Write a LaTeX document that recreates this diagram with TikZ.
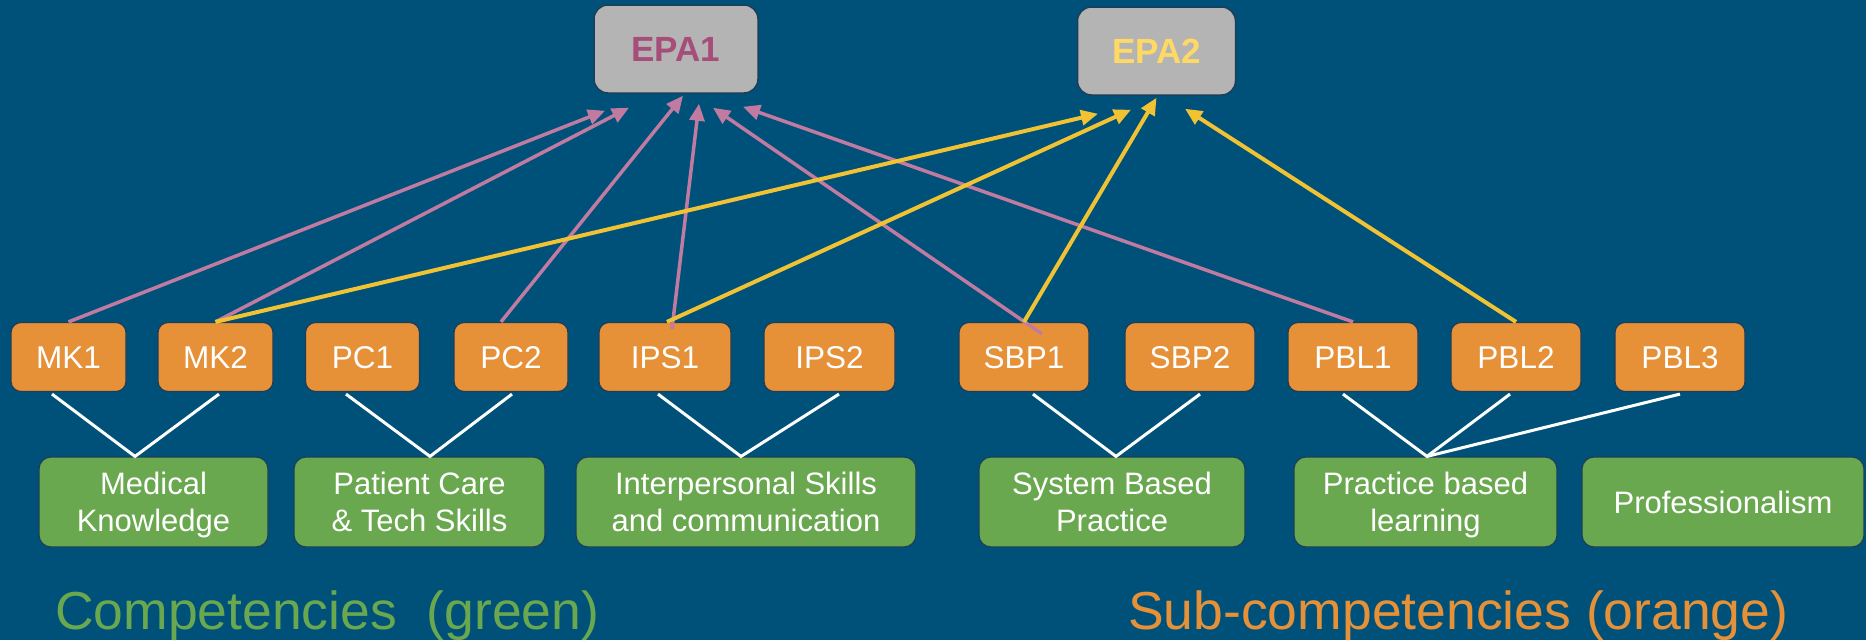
\documentclass[tikz,border=0pt]{standalone}
\usepackage{fontspec}
\setmainfont{Liberation Sans}
\usetikzlibrary{calc,arrows.meta}
\definecolor{bgblue}{RGB}{0,81,122}
\definecolor{epagray}{RGB}{180,180,180}
\definecolor{suborange}{RGB}{230,145,56}
\definecolor{compgreen}{RGB}{106,168,79}
\definecolor{pinkarrow}{RGB}{194,123,160}
\definecolor{yellowarrow}{RGB}{241,194,50}
\definecolor{epaonetext}{RGB}{166,77,121}
\definecolor{epatwotext}{RGB}{255,217,102}
\definecolor{boxedge}{RGB}{28,62,88}
\newcommand{\gstrut}{\rule[-6pt]{0pt}{34pt}}
\tikzset{
  epabox/.style={draw=boxedge, line width=1.5pt, fill=epagray, rounded corners=14pt,
    inner sep=0pt, text height=25pt, text depth=0pt,
    font=\fontsize{35}{40}\selectfont\bfseries},
  subbox/.style={draw=boxedge, line width=1.2pt, fill=suborange, rounded corners=10pt,
    minimum height=69pt, inner sep=0pt, text height=22.5pt, text depth=0pt,
    text=white, font=\fontsize{31.5}{36}\selectfont},
  compbox/.style={draw=boxedge, line width=1.2pt, fill=compgreen, rounded corners=12pt,
    minimum height=90pt, inner sep=0pt, text=white, align=center,
    font=\fontsize{31}{37}\selectfont},
  whiteline/.style={draw=white, line width=3pt},
  pinkarr/.style={draw=pinkarrow, line width=3.5pt, -{Triangle[length=17pt,width=15pt]}},
  yelarr/.style={draw=yellowarrow, line width=4pt, -{Triangle[length=17pt,width=15pt]}},
  legend/.style={anchor=base west, inner sep=0pt, font=\fontsize{53.5}{60}\selectfont}
}
\begin{document}
\begin{tikzpicture}[x=1pt,y=-1pt]
\fill[bgblue] (0,0) rectangle (1866,640);
\useasboundingbox (0,0) rectangle (1866,640);

% EPA boxes
\node[epabox, minimum width=164pt, minimum height=88pt, text=epaonetext] (EPA1) at (676,49) {EPA1};
\node[epabox, minimum width=158pt, minimum height=88pt, text=epatwotext] (EPA2) at (1156.5,51) {EPA2};

% Sub-competencies
\node[subbox, minimum width=115pt] (MK1) at (68.5,357) {MK1};
\node[subbox, minimum width=115pt] (MK2) at (215.5,357) {MK2};
\node[subbox, minimum width=114pt] (PC1) at (362.5,357) {PC1};
\node[subbox, minimum width=114pt] (PC2) at (511,357) {PC2};
\node[subbox, minimum width=132pt] (IPS1) at (665,357) {IPS1};
\node[subbox, minimum width=131pt] (IPS2) at (829.5,357) {IPS2};
\node[subbox, minimum width=130pt] (SBP1) at (1024,357) {SBP1};
\node[subbox, minimum width=130pt] (SBP2) at (1190,357) {SBP2};
\node[subbox, minimum width=130pt] (PBL1) at (1353,357) {PBL1};
\node[subbox, minimum width=130pt] (PBL2) at (1516,357) {PBL2};
\node[subbox, minimum width=130pt] (PBL3) at (1680,357) {PBL3};

% Competencies
\node[compbox, minimum width=229pt] (gMK) at (153.5,502) {Medical\gstrut\\Knowledge\gstrut};
\node[compbox, minimum width=251pt] (gPC) at (419.5,502) {Patient Care\gstrut\\\& Tech Skills\gstrut};
\node[compbox, minimum width=340pt] (gIPS) at (746,502) {Interpersonal Skills\gstrut\\and communication\gstrut};
\node[compbox, minimum width=266pt] (gSBP) at (1112,502) {System Based\gstrut\\Practice\gstrut};
\node[compbox, minimum width=263pt] (gPBL) at (1425.5,502) {Practice based\gstrut\\learning\gstrut};
\node[compbox, minimum width=282pt] (gPRO) at (1723,502) {Professionalism\gstrut};

% junction points on top of the competency boxes
\coordinate (jMK) at ($(gMK.north)+(-18.5,0)$);
\coordinate (jPC) at ($(gPC.north)+(10.5,0)$);
\coordinate (jIPS) at ($(gIPS.north)+(-5,0)$);
\coordinate (jSBP) at ($(gSBP.north)+(4,0)$);
\coordinate (jPBL) at ($(gPBL.north)+(1.5,0)$);

% white connectors
\draw[whiteline] ($(MK1.south)+(-16.5,2)$) -- (jMK) -- ($(MK2.south)+(3.5,2)$);
\draw[whiteline] ($(PC1.south)+(-16.5,2)$) -- (jPC) -- ($(PC2.south)+(1,2)$);
\draw[whiteline] ($(IPS1.south)+(-7,2)$) -- (jIPS) -- ($(IPS2.south)+(9.5,2)$);
\draw[whiteline] ($(SBP1.south)+(9,2)$) -- (jSBP) -- ($(SBP2.south)+(10,2)$);
\draw[whiteline] ($(PBL1.south)+(-10,2)$) -- (jPBL) -- ($(PBL2.south)+(-6,2)$);
\draw[whiteline] (jPBL) -- ($(PBL3.south)+(0,2)$);

% pink arrows to EPA1
\draw[pinkarr] (MK1.north) -- ($(EPA1.south)+(-71,17)$);
\draw[pinkarr] (MK2.north) -- ($(EPA1.south)+(-47,14)$);
\draw[pinkarr] ($(PC2.north)+(-10,0)$) -- ($(EPA1.south)+(7,2)$);
\draw[pinkarr] ($(IPS1.north)+(7,7)$) -- ($(EPA1.south)+(23,10)$);
\draw[pinkarr] ($(SBP1.north)+(18,12)$) -- ($(EPA1.south)+(37,14)$);
\draw[pinkarr] (PBL1.north) -- ($(EPA1.south)+(67,13)$);

% yellow arrows to EPA2
\draw[yelarr] (MK2.north) -- ($(EPA2.south)+(-58.5,18)$);
\draw[yelarr] ($(IPS1.north)+(2,0)$) -- ($(EPA2.south)+(-25.5,14)$);
\draw[yelarr] (SBP1.north) -- ($(EPA2.south)+(0,2)$);
\draw[yelarr] (PBL2.north) -- ($(EPA2.south)+(28.5,13)$);

% legends
\node[legend, text=compgreen] (legC) at (55,629) {Competencies\ \ (green)};
\node[legend, text=suborange] (legS) at (1128,629) {Sub-competencies (orange)};
\end{tikzpicture}
\end{document}
